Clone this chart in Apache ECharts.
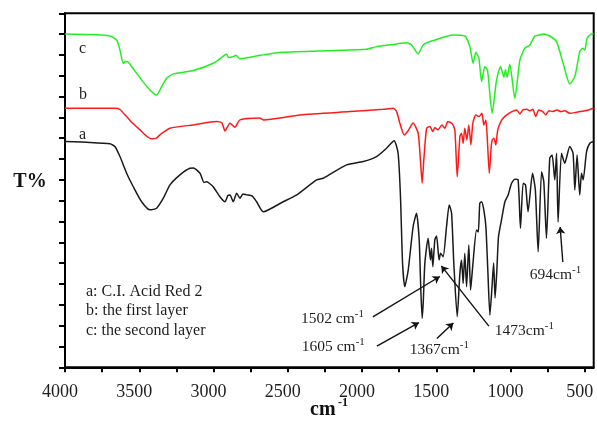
<!DOCTYPE html>
<html><head><meta charset="utf-8">
<script src="https://cdn.jsdelivr.net/npm/echarts@6/dist/echarts.min.js"></script>
<style>html,body{margin:0;padding:0;background:#fff}#c{width:597px;height:422px}</style>
</head><body><div id="c"></div>
<script>
// x-axis tick / label values (wavenumber, cm-1)
const xTickValues = [500,750,1000,1250,1500,1750,2000,2250,2500,2750,3000,3250,3500,3750,4000];
const xLabelValues = [500,1000,1500,2000,2500,3000,3500,4000];

// c: the second layer (green)
const waveC = [4000,3832,3697,3652,3630,3608,3593,3574,3549,3495,3428,3383,3349,3316,3271,3136,3002,2923,2913,2900,2869,2849,2822,2688,2533,2196,1969,1902,1767,1700,1666,1622,1588,1521,1386,1308,1274,1252,1234,1213,1195,1173,1155,1124,1094,1067,1045,1034,1023,1005,971,937,904,870,836,803,780,736,690,646,601,567,534,515,500,484,455,441];
const transC = [160.1,159.8,159.1,157.2,152.4,146.0,146.9,146.5,144.2,139.0,133.2,130.8,134.8,138.8,140.9,142.5,146.0,150.0,150.5,148.8,149.2,149.8,148.2,149.8,151.3,152.1,152.7,154.0,155.3,155.9,154.8,150.5,154.8,156.9,159.6,159.1,154.0,146.0,151.3,148.4,137.2,144.4,142.8,122.0,138.0,144.4,139.3,142.8,139.3,145.5,129.2,147.6,153.2,154.8,159.1,159.6,160.1,159.1,156.4,146.0,136.1,139.6,151.6,153.2,152.4,158.0,160.1,160.1];

// b: the first layer (red)
const waveB = [4000,3664,3630,3585,3542,3495,3455,3416,3388,3361,3293,3136,2979,2943,2923,2889,2856,2822,2688,2665,2418,2082,1858,1790,1767,1745,1716,1691,1656,1622,1607,1595,1584,1565,1543,1523,1510,1489,1462,1442,1422,1395,1375,1359,1341,1330,1319,1308,1294,1281,1267,1254,1234,1213,1193,1180,1166,1156,1143,1129,1123,1112,1099,1086,1059,1025,991,958,937,917,890,870,850,830,810,783,762,742,715,688,661,635,601,567,534,500,473,441];
const transB = [124.4,124.4,123.8,120.4,117.1,114.0,111.3,109.7,109.9,111.6,114.8,116.4,118.0,117.3,113.5,117.2,115.3,118.8,119.7,118.8,121.2,122.8,123.9,124.4,122.8,117.2,111.6,113.5,117.3,112.4,99.6,88.5,99.6,114.8,115.6,113.2,115.1,114.0,116.4,114.8,118.0,117.2,114.0,91.5,110.8,112.4,107.6,114.8,109.2,116.4,106.8,117.2,121.2,120.4,122.0,116.4,118.8,109.2,93.2,106.8,109.2,110.0,106.8,114.0,118.8,121.2,122.8,123.6,121.7,123.6,123.9,123.2,123.9,120.4,123.6,122.8,121.2,123.2,122.8,123.6,122.8,123.2,122.0,122.3,122.8,123.2,123.6,124.4];

// a: C.I. Acid Red 2 (black)
const waveA = [4000,3832,3697,3664,3630,3585,3540,3484,3428,3383,3338,3293,3226,3159,3136,3091,3064,3046,3031,3002,2957,2923,2903,2889,2867,2844,2822,2802,2777,2741,2710,2665,2531,2440,2306,2261,2104,1992,1902,1835,1784,1757,1741,1727,1712,1689,1656,1633,1615,1604,1595,1587,1577,1555,1539,1532,1523,1510,1498,1481,1471,1454,1431,1413,1397,1382,1359,1341,1330,1319,1308,1296,1281,1269,1254,1229,1217,1207,1195,1180,1166,1153,1139,1126,1114,1104,1092,1081,1061,1038,1016,993,971,949,933,915,899,882,852,833,814,791,776,758,736,720,702,690,680,657,635,601,579,567,552,534,522,511,488,466,441];
const transA = [108.4,108.0,107.3,106.0,101.2,93.2,86.7,79.5,75.6,76.4,81.2,87.6,92.4,95.6,95.7,93.2,88.8,89.1,88.5,86.7,81.9,79.5,82.5,82.8,79.5,83.6,81.2,83.2,82.8,82.3,79.5,74.7,79.5,82.8,90.0,90.8,97.2,98.8,101.2,105.2,108.8,102.8,81.9,50.0,38.7,46.7,67.5,74.0,61.1,37.1,23.5,32.3,50.0,62.0,51.5,57.2,48.3,61.1,63.1,51.5,54.8,53.1,67.5,78.0,74.0,50.0,24.3,45.1,51.5,40.3,54.8,38.7,58.7,37.1,49.1,65.9,65.0,78.8,79.5,75.6,67.5,46.7,25.1,37.1,50.1,33.3,46.7,62.7,70.7,79.5,82.8,88.4,90.3,90.0,66.8,88.4,87.6,74.7,93.2,85.2,55.5,93.9,89.1,62.0,100.4,102.0,90.0,102.8,69.8,102.8,98.0,106.0,102.8,85.2,102.0,82.8,93.2,90.0,103.6,107.6,108.4];

// peak annotations: text, label anchor [wavenumber, T], arrow tail, arrow head
const peakText = ['1502 cm', '1605 cm', '1367cm', '1473cm', '694cm'];
const peakLabelAt = [[1987,23.2],[1981,9.9],[1678,8.3],[1106,17.4],[870,44.3]];
const peakLabelAlign = ['right','right','left','left','left'];
const arrowTail = [[1927,24.2],[1900,10.2],[1496,13.8],[1146,19.8],[648,50.6]];
const arrowHead = [[1476,43.6],[1617,21.5],[1385,21.3],[1466,48.7],[666,67.4]];

// curve letters
const curveLetters = ['a','b','c'];
const curveLetterAt = [[3906,111.8],[3906,131.0],[3906,153.1]];

const legendLines = ['a: C.I. Acid Red 2','b: the first layer','c: the second layer'];

const serif = '"Liberation Serif","Times New Roman",serif';
const pairs = (w,t) => w.map((v,i) => [v,t[i]]);
const letterPoint = i => ({
  coord: curveLetterAt[i],
  label: {formatter: curveLetters[i], align: 'left'}
});

const chart = echarts.init(document.getElementById('c'), null, {renderer:'canvas'});
const textColor = '#1e1e1e';

const markLabelStyle = {
  show: true, position: 'inside', color: textColor, fontFamily: serif, fontSize: 16
};

const option = {
  animation: false,
  grid: {left:65, right:3.3, top:13.3, bottom:54.7, show:true, borderColor:'#000', borderWidth:2, backgroundColor:'transparent'},
  xAxis: {
    type:'value', inverse:true, min:440, max:4000,
    axisLine:{show:true, lineStyle:{color:'#000', width:2}},
    axisTick:{show:true, customValues:xTickValues, length:5, lineStyle:{color:'#000', width:2}},
    axisLabel:{show:true, customValues:xLabelValues, formatter: v => String(v), fontFamily:serif, fontSize:18, color:textColor, margin:16, padding:[0,10,0,0]},
    splitLine:{show:false}
  },
  yAxis: {
    type:'value', min:0, max:170, interval:10,
    axisLine:{show:true, lineStyle:{color:'#000', width:2}},
    axisTick:{show:true, length:6, lineStyle:{color:'#000', width:2}},
    axisLabel:{show:false}, splitLine:{show:false}
  },
  series: [
    {
      name:'c', type:'line', data:pairs(waveC,transC), showSymbol:false, smooth:0.2,
      lineStyle:{color:'#22ee22', width:1.5}, itemStyle:{color:'#22ee22'}, z:3,
      markPoint:{symbolSize:0, label:markLabelStyle, data:[letterPoint(2)], silent:true}
    },
    {
      name:'b', type:'line', data:pairs(waveB,transB), showSymbol:false, smooth:0.2,
      lineStyle:{color:'#ff1a1a', width:1.5}, itemStyle:{color:'#ff1a1a'}, z:3,
      markPoint:{symbolSize:0, label:markLabelStyle, data:[letterPoint(1)], silent:true}
    },
    {
      name:'a', type:'line', data:pairs(waveA,transA), showSymbol:false, smooth:0.2,
      lineStyle:{color:'#1a1a1a', width:1.5}, itemStyle:{color:'#1a1a1a'}, z:3,
      markPoint:{
        symbolSize:0, silent:true, label:markLabelStyle,
        data:[letterPoint(0)].concat(peakText.map((t,i) => ({
          coord: peakLabelAt[i],
          label: {
            formatter: '{m|' + t + '}{s|-1}', align: peakLabelAlign[i],
            rich: {
              m:{fontFamily:serif, fontSize:15.5, color:textColor, lineHeight:20},
              s:{fontFamily:serif, fontSize:11, color:textColor, verticalAlign:'top', lineHeight:12}
            }
          }
        })))
      },
      markLine:{
        silent:true, symbol:['none','arrow'], symbolSize:7,
        label:{show:false},
        lineStyle:{color:'#111', width:1.4, type:'solid'},
        emphasis:{disabled:true},
        data: arrowTail.map((p,i) => [{coord:p},{coord:arrowHead[i]}])
      }
    }
  ],
  graphic: [
    {type:'text', x:30, y:181.5, style:{text:'T%', font:'bold 20px ' + serif, fill:'#111', align:'center', verticalAlign:'middle', textAlign:'center', textVerticalAlign:'middle'}},
    {type:'text', x:310, y:410, style:{text:'cm', font:'bold 20px ' + serif, fill:'#111', align:'left', verticalAlign:'middle', textAlign:'left', textVerticalAlign:'middle'}},
    {type:'text', x:338, y:403, style:{text:'-1', font:'bold 12px ' + serif, fill:'#111', align:'left', verticalAlign:'middle', textAlign:'left', textVerticalAlign:'middle'}}
  ].concat(legendLines.map((t,i) => ({
    type:'text', x:86, y:291.3 + i*19.8,
    style:{text:t, font:'16px ' + serif, fill:textColor, align:'left', verticalAlign:'middle', textAlign:'left', textVerticalAlign:'middle'}
  })))
};
chart.setOption(option);
</script>
</body></html>
